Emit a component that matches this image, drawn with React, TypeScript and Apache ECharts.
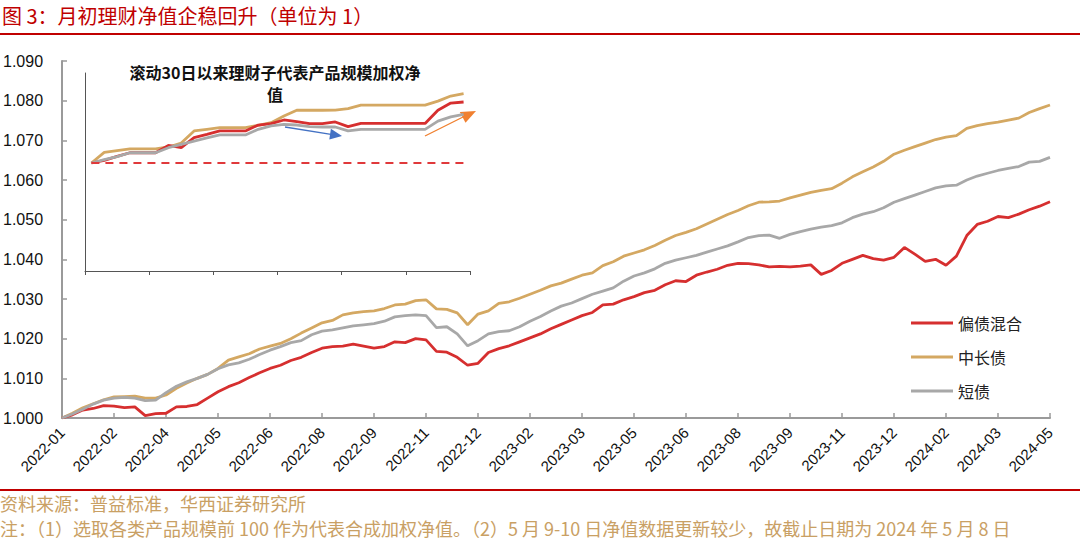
import React, { useEffect, useRef } from 'react';
import * as echarts from 'echarts';

// ---------- main chart data ----------
const tickLabels = [
  '2022-01', '2022-02', '2022-04', '2022-05', '2022-06', '2022-08', '2022-09', '2022-11', '2022-12',
  '2023-02', '2023-03', '2023-05', '2023-06', '2023-08', '2023-09', '2023-11', '2023-12',
  '2024-02', '2024-03', '2024-05',
];
const POINTS_PER_TICK = 5;

const seriesNames = ['偏债混合', '中长债', '短债'];

const mixedBond = [
  1.0000, 1.0008, 1.0020, 1.0024, 1.0031, 1.0030, 1.0026, 1.0028, 1.0006, 1.0011,
  1.0012, 1.0028, 1.0029, 1.0034, 1.0050, 1.0066, 1.0079, 1.0089, 1.0102, 1.0114,
  1.0125, 1.0133, 1.0145, 1.0153, 1.0165, 1.0176, 1.0180, 1.0181, 1.0186, 1.0181,
  1.0176, 1.0180, 1.0192, 1.0190, 1.0200, 1.0197, 1.0168, 1.0166, 1.0153, 1.0133,
  1.0138, 1.0165, 1.0175, 1.0182, 1.0192, 1.0202, 1.0212, 1.0225, 1.0236, 1.0247,
  1.0258, 1.0266, 1.0285, 1.0287, 1.0298, 1.0306, 1.0316, 1.0322, 1.0336, 1.0346,
  1.0344, 1.0360, 1.0368, 1.0375, 1.0385, 1.0390, 1.0389, 1.0386, 1.0381, 1.0382,
  1.0381, 1.0383, 1.0386, 1.0362, 1.0372, 1.0390, 1.0400, 1.0410, 1.0402, 1.0398,
  1.0405, 1.0430, 1.0413, 1.0395, 1.0400, 1.0385, 1.0408, 1.0460, 1.0488, 1.0496,
  1.0508, 1.0505, 1.0514, 1.0525, 1.0534, 1.0545,
];

const midLongBond = [
  1.0000, 1.0012, 1.0026, 1.0036, 1.0046, 1.0053, 1.0054, 1.0055, 1.0050, 1.0050,
  1.0058, 1.0075, 1.0088, 1.0100, 1.0110, 1.0125, 1.0146, 1.0154, 1.0162, 1.0174,
  1.0181, 1.0188, 1.0200, 1.0214, 1.0227, 1.0240, 1.0246, 1.0260, 1.0265, 1.0268,
  1.0270, 1.0276, 1.0285, 1.0287, 1.0296, 1.0298, 1.0275, 1.0274, 1.0265, 1.0235,
  1.0262, 1.0270, 1.0289, 1.0293, 1.0302, 1.0312, 1.0322, 1.0333, 1.0340, 1.0350,
  1.0360, 1.0366, 1.0384, 1.0394, 1.0408, 1.0416, 1.0424, 1.0435, 1.0448, 1.0460,
  1.0468, 1.0477, 1.0489, 1.0501, 1.0513, 1.0523, 1.0535, 1.0544, 1.0545, 1.0547,
  1.0555, 1.0562, 1.0569, 1.0574, 1.0578, 1.0592, 1.0608, 1.0621, 1.0633, 1.0647,
  1.0665, 1.0675, 1.0684, 1.0693, 1.0702, 1.0708, 1.0712, 1.0730, 1.0737, 1.0742,
  1.0746, 1.0751, 1.0756, 1.0770, 1.0780, 1.0789,
];

const shortBond = [
  1.0000, 1.0010, 1.0022, 1.0035, 1.0045, 1.0050, 1.0052, 1.0050, 1.0044, 1.0045,
  1.0064, 1.0080, 1.0091, 1.0100, 1.0110, 1.0124, 1.0134, 1.0139, 1.0148, 1.0160,
  1.0171, 1.0180, 1.0190, 1.0195, 1.0210, 1.0219, 1.0222, 1.0227, 1.0232, 1.0235,
  1.0238, 1.0244, 1.0255, 1.0258, 1.0260, 1.0258, 1.0228, 1.0230, 1.0212, 1.0182,
  1.0195, 1.0212, 1.0218, 1.0220, 1.0230, 1.0244, 1.0256, 1.0270, 1.0282, 1.0290,
  1.0301, 1.0312, 1.0320, 1.0328, 1.0345, 1.0358, 1.0366, 1.0376, 1.0390, 1.0398,
  1.0404, 1.0410, 1.0418, 1.0426, 1.0434, 1.0444, 1.0455, 1.0460, 1.0461, 1.0453,
  1.0463, 1.0470, 1.0476, 1.0481, 1.0485, 1.0492, 1.0505, 1.0514, 1.0520, 1.0530,
  1.0544, 1.0553, 1.0562, 1.0571, 1.0580, 1.0585, 1.0587, 1.0600, 1.0610, 1.0617,
  1.0624, 1.0629, 1.0634, 1.0645, 1.0647, 1.0657,
];

// ---------- inset (rolling 30 days) data ----------
const insetDays = [
  '1', '2', '3', '4', '5', '6', '7', '8', '9', '10', '11', '12', '13', '14', '15',
  '16', '17', '18', '19', '20', '21', '22', '23', '24', '25', '26', '27', '28', '29', '30',
];
const insetBase = 1.0;
const insetMixed = [
  1.0000, 1.00015, 1.00037, 1.00057, 1.00057, 1.00057, 1.00098, 1.00085, 1.00141, 1.00159,
  1.00178, 1.00178, 1.00178, 1.00211, 1.00219, 1.00239, 1.0023, 1.00219, 1.00219, 1.00228,
  1.00202, 1.0022, 1.0022, 1.0022, 1.0022, 1.0022, 1.0022, 1.00293, 1.00333, 1.00339,
];
const insetMidLong = [
  1.0000, 1.00059, 1.00069, 1.00078, 1.00078, 1.00078, 1.00089, 1.00111, 1.00178, 1.00187,
  1.00196, 1.00196, 1.00196, 1.00209, 1.00224, 1.00261, 1.00293, 1.00293, 1.00293, 1.00294,
  1.00302, 1.00322, 1.00322, 1.00322, 1.00322, 1.00322, 1.00322, 1.00344, 1.00372, 1.00385,
];
const insetShort = [
  1.0000, 1.00019, 1.00035, 1.00057, 1.00057, 1.00057, 1.00085, 1.00104, 1.00122, 1.00139,
  1.00156, 1.00156, 1.00156, 1.00187, 1.00206, 1.00215, 1.00211, 1.00202, 1.002, 1.002,
  1.00178, 1.00187, 1.00187, 1.00187, 1.00187, 1.00187, 1.00187, 1.00233, 1.00256, 1.0027,
];

const RED = '#D62F2F';
const GOLD = '#D4A862';
const GRAY = '#A8A8A8';
const AXIS = '#9A9A9A';
const LATIN = "'Liberation Sans', Arial, sans-serif";
const CJK = "'Noto Sans CJK SC', sans-serif";

const titleText = '图 3：月初理财净值企稳回升（单位为 1）';
const sourceText = '资料来源：普益标准，华西证券研究所';
const noteText = '注：（1）选取各类产品规模前 100 作为代表合成加权净值。（2）5 月 9-10 日净值数据更新较少，故截止日期为 2024 年 5 月 8 日';
const insetTitleLine1 = '滚动30日以来理财子代表产品规模加权净';
const insetTitleLine2 = '值';

export default function App() {
  const ref = useRef<HTMLDivElement>(null);

  useEffect(() => {
    document.body.style.margin = '0';
    if (!ref.current) return;
    const chart = echarts.init(ref.current, undefined, { renderer: 'svg' });

    const toPairs = (arr: number[]) => arr.map((v, i) => [i, v]);
    const maxIdx = (tickLabels.length - 1) * POINTS_PER_TICK;

    const mainLine = (name: string, data: number[], color: string) => ({
      name,
      type: 'line',
      xAxisIndex: 0,
      yAxisIndex: 0,
      data: toPairs(data),
      showSymbol: false,
      symbol: 'none',
      lineStyle: { color, width: 2.8 },
      itemStyle: { color },
      z: 3,
    });

    const insetLine = (name: string, data: number[], color: string, extra: any = {}) => ({
      name: name + '-inset',
      type: 'line',
      xAxisIndex: 1,
      yAxisIndex: 1,
      data,
      showSymbol: false,
      symbol: 'none',
      lineStyle: { color, width: 2.8 },
      itemStyle: { color },
      z: 4,
      ...extra,
    });

    const option: any = {
      animation: false,
      backgroundColor: '#ffffff',
      grid: [
        { left: 62, right: 30, top: 61, bottom: 124, containLabel: false },
        { left: 85, top: 73, width: 385, height: 198, containLabel: false },
      ],
      xAxis: [
        {
          type: 'value',
          gridIndex: 0,
          min: 0,
          max: maxIdx,
          interval: POINTS_PER_TICK,
          axisLine: { show: true, lineStyle: { color: AXIS, width: 2 } },
          axisTick: { show: true, inside: true, length: 5, lineStyle: { color: AXIS, width: 1.5 } },
          splitLine: { show: false },
          axisLabel: {
            rotate: 45,
            margin: 12,
            fontSize: 15,
            color: '#111',
            fontFamily: LATIN,
            showMinLabel: true,
            showMaxLabel: true,
            formatter: (v: number) => tickLabels[Math.round(v / POINTS_PER_TICK)] ?? '',
          },
        },
        {
          type: 'category',
          gridIndex: 1,
          data: insetDays,
          boundaryGap: true,
          axisLine: { show: true, lineStyle: { color: '#555', width: 1 } },
          axisTick: { show: true, interval: 4, length: 4, lineStyle: { color: '#555' } },
          axisLabel: { show: false },
          splitLine: { show: false },
        },
      ],
      yAxis: [
        {
          type: 'value',
          gridIndex: 0,
          min: 1.0,
          max: 1.09,
          interval: 0.01,
          axisLine: { show: true, lineStyle: { color: AXIS, width: 2 } },
          axisTick: { show: true, inside: true, length: 5, lineStyle: { color: AXIS, width: 1.5 } },
          splitLine: { show: false },
          axisLabel: {
            margin: 19,
            fontSize: 16,
            color: '#111',
            fontFamily: LATIN,
            formatter: (v: number) => v.toFixed(3),
          },
        },
        {
          type: 'value',
          gridIndex: 1,
          min: 0.994,
          max: 1.005,
          axisLine: { show: true, lineStyle: { color: '#555', width: 1 } },
          axisTick: { show: false },
          axisLabel: { show: false },
          splitLine: { show: false },
        },
      ],
      legend: {
        data: seriesNames,
        orient: 'vertical',
        left: 906,
        top: 308,
        itemWidth: 42,
        itemHeight: 3,
        itemGap: 14,
        icon: 'rect',
        textStyle: { fontSize: 16, lineHeight: 20, color: '#222', fontFamily: CJK },
      },
      series: [
        mainLine(seriesNames[1], midLongBond, GOLD),
        mainLine(seriesNames[0], mixedBond, RED),
        mainLine(seriesNames[2], shortBond, GRAY),
        insetLine(seriesNames[1], insetMidLong, GOLD),
        insetLine(seriesNames[0], insetMixed, RED, {
          markLine: {
            silent: true,
            symbol: ['none', 'none'],
            label: { show: false },
            lineStyle: { color: '#E0393B', width: 2, type: [8, 6] },
            data: [[
              { coord: [insetDays[0], insetBase] },
              { coord: [insetDays[insetDays.length - 1], insetBase] },
            ]],
          },
        }),
        insetLine(seriesNames[2], insetShort, GRAY),
      ],
      graphic: [
        {
          type: 'text',
          x: 2,
          y: 15,
          style: {
            text: titleText,
            fontSize: 20,
            fill: '#C00000',
            fontFamily: CJK,
            align: 'left',
            verticalAlign: 'middle',
          },
        },
        { type: 'rect', shape: { x: 0, y: 33, width: 1080, height: 2 }, style: { fill: '#C00000' } },
        { type: 'rect', shape: { x: 0, y: 489, width: 1080, height: 2 }, style: { fill: '#C00000' } },
        {
          type: 'text',
          x: 0,
          y: 503,
          style: { text: sourceText, fontSize: 18, fill: '#C9A064', fontFamily: CJK, verticalAlign: 'middle' },
        },
        {
          type: 'text',
          x: 0,
          y: 528,
          style: { text: noteText, fontSize: 18, fill: '#C9A064', fontFamily: CJK, verticalAlign: 'middle' },
        },
        {
          type: 'text',
          x: 275,
          y: 72,
          style: {
            text: insetTitleLine1,
            fontSize: 16,
            fontWeight: 'bold',
            fill: '#111',
            fontFamily: CJK,
            align: 'center',
            verticalAlign: 'middle',
          },
        },
        {
          type: 'text',
          x: 275,
          y: 94,
          style: {
            text: insetTitleLine2,
            fontSize: 16,
            fontWeight: 'bold',
            fill: '#111',
            fontFamily: CJK,
            align: 'center',
            verticalAlign: 'middle',
          },
        },
        // blue arrow
        {
          type: 'line',
          shape: { x1: 285, y1: 127, x2: 331, y2: 134.3 },
          style: { stroke: '#4472C4', lineWidth: 1.3 },
        },
        {
          type: 'polygon',
          shape: { points: [[342, 136], [329.3, 139.5], [330.9, 128.8]] },
          style: { fill: '#4472C4' },
        },
        // orange arrow
        {
          type: 'line',
          shape: { x1: 425, y1: 136, x2: 463, y2: 117 },
          style: { stroke: '#F08030', lineWidth: 1.3 },
        },
        {
          type: 'polygon',
          shape: { points: [[476, 111], [465.5, 122.7], [459.8, 112]] },
          style: { fill: '#F08030' },
        },
      ],
    };

    chart.setOption(option);
    return () => chart.dispose();
  }, []);

  return <div ref={ref} style={{ width: 1080, height: 542 }} />;
}
